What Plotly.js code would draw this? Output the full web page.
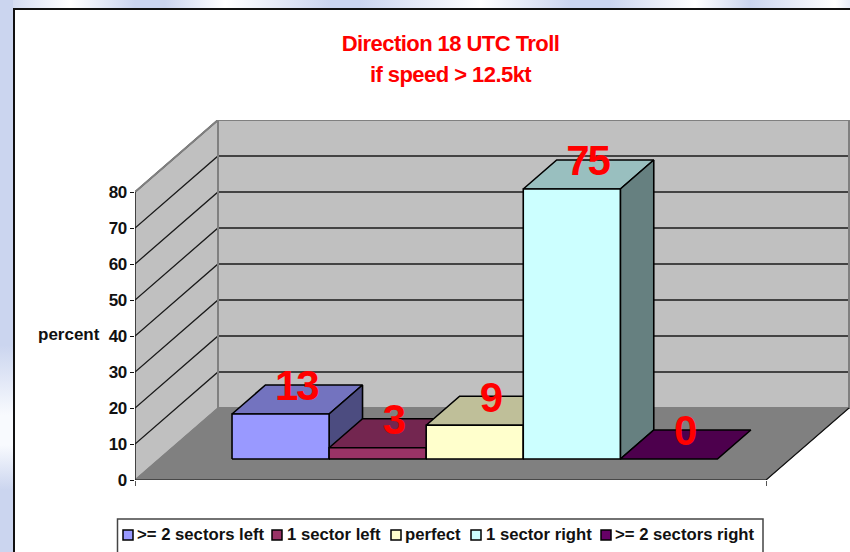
<!DOCTYPE html>
<html><head><meta charset="utf-8">
<script src="https://cdn.plot.ly/plotly-3.0.1.min.js"></script>
<style>
html,body{margin:0;padding:0;width:850px;height:552px;overflow:hidden;background:#cbd5ef}
#bgTop{position:absolute;left:0;top:0;width:850px;height:12px;background:linear-gradient(90deg,#cbd5ef 0,#ffffff 70px,#cbd5ef 135px,#cbd5ef 165px,#ffffff 225px,#cbd5ef 330px,#cbd5ef 360px,#ffffff 480px,#cbd5ef 570px,#cbd5ef 610px,#ffffff 695px,#cbd5ef 750px,#ffffff 835px,#e8edf8 850px)}
#bgLeft{position:absolute;left:0;top:0;width:13px;height:552px;background:linear-gradient(180deg,#cbd5ef 0,#cbd5ef 345px,#f8fafe 415px,#f8fafe 445px,#cbd5ef 490px,#cbd5ef 552px)}
#frame{position:absolute;left:13px;top:8px;width:837px;height:544px;background:#fff;border-left:2px solid #111;border-top:2px solid #111;box-sizing:border-box}
#chart{position:absolute;left:0;top:0;width:850px;height:552px}
.ytick text{letter-spacing:-.5px}
.gtitle{letter-spacing:-.55px}
.textpoint text{letter-spacing:-2px}
</style></head><body>
<div id="bgTop"></div><div id="bgLeft"></div><div id="frame"></div><div id="chart"></div>
<script>
const categories=['>= 2 sectors left','1 sector left','perfect','1 sector right','>= 2 sectors right'];
const values=[12.5,3.125,9.375,75,0];
const valueLabels=['13','3','9','75','0'];
const frontColors=['#9999FF','#993366','#FFFFCC','#CCFFFF','#660066'];
const topColors=['#7373BF','#732650','#BFBF99','#99BFBF','#4D004D'];
const sideColors=['#4C4C80','#4D1A33','#808066','#668080','#330033'];
const yTicks=[0,10,20,30,40,50,60,70,80];

const nBars=categories.length, gap=0.75;
const xStart=-gap, xEnd=nBars+gap, yMax=80;
const depthX=83/97.08, depthY=20;           // oblique projection of the depth axis, in axis units
const z0=21/72, z1=50/72;                   // bar front/back inside the depth
const px=(x,z)=>x+z*depthX, py=(y,z)=>y+z*depthY;
const poly=(pts,fill,line,lw)=>({type:'scatter',mode:'lines',x:pts.map(p=>px(p[0],p[2])).concat(px(pts[0][0],pts[0][2])),
  y:pts.map(p=>py(p[1],p[2])).concat(py(pts[0][1],pts[0][2])),fill:'toself',fillcolor:fill,
  line:{color:line,width:lw},hoverinfo:'skip',showlegend:false});

const traces=[];
traces.push(poly([[xStart,0,1],[xEnd,0,1],[xEnd,yMax,1],[xStart,yMax,1]],'#C0C0C0','#808080',2));
traces.push(poly([[xStart,0,0],[xStart,0,1],[xStart,yMax,1],[xStart,yMax,0]],'#C0C0C0','#808080',1.5));
traces.push(poly([[xStart,0,0],[xEnd,0,0],[xEnd,0,1],[xStart,0,1]],'#808080','#808080',1));
const gx=[],gy=[];
yTicks.filter(t=>t>0).forEach(t=>{
  gx.push(px(xStart,0),px(xStart,1),px(xEnd,1),null); gy.push(py(t,0),py(t,1),py(t,1),null);
});
traces.push({type:'scatter',mode:'lines',x:gx,y:gy,line:{color:'#1a1a1a',width:1.3},hoverinfo:'skip',showlegend:false});
traces.push({type:'scatter',mode:'lines',x:[px(xStart,1),px(xStart,1)],y:[py(0,1),py(yMax,1)],line:{color:'#808080',width:2},hoverinfo:'skip',showlegend:false});
traces.push({type:'scatter',mode:'lines',x:[px(xStart,0),px(xStart,1),px(xEnd,1),px(xEnd,1)],y:[py(yMax,0),py(yMax,1),py(yMax,1),py(0,1)],line:{color:'#808080',width:2},hoverinfo:'skip',showlegend:false});
traces.push({type:'scatter',mode:'lines',x:[xStart,xStart,xEnd,px(xEnd,1)],y:[yMax,0,0,py(0,1)],line:{color:'#111',width:1.2},hoverinfo:'skip',showlegend:false});
values.forEach((v,i)=>{
  const a=i,b=i+1;
  traces.push(poly([[a,v,z0],[b,v,z0],[b,v,z1],[a,v,z1]],topColors[i],'#000',1.6));
  if(v>0) traces.push(poly([[b,0,z0],[b,0,z1],[b,v,z1],[b,v,z0]],sideColors[i],'#000',1.6));
  if(v>0) traces.push(poly([[a,0,z0],[b,0,z0],[b,v,z0],[a,v,z0]],frontColors[i],'#000',1.6));
});
const labelLift=2.65, zm=(z0+z1)/2;
traces.push({type:'scatter',mode:'text',x:values.map((v,i)=>px(i+0.5,zm)-0.01),y:values.map(v=>py(v,zm)+labelLift),
  text:valueLabels,textposition:'middle center',textfont:{family:'Liberation Sans',size:42,color:'#FF0000',weight:700},hoverinfo:'skip',showlegend:false,cliponaxis:false});

const W=850,H=552;
const legendSwatchPx=[123,272,391,471,601];
const legendTextPx=[135,285,403,484,613];
const shapes=[];
const mL=135,mR=0,mT=120,mB=72,pw=W-mL-mR,ph=H-mT-mB;
const paperX=p=>(p-mL)/pw, paperY=p=>(H-mB-p)/ph;
shapes.push({type:'rect',xref:'paper',yref:'paper',x0:paperX(117.5),x1:paperX(763),y0:paperY(560),y1:paperY(519),line:{color:'#444',width:1.5},fillcolor:'#fff',layer:'above'});
const annotations=[];
categories.forEach((c,i)=>{
  shapes.push({type:'rect',xref:'paper',yref:'paper',x0:paperX(legendSwatchPx[i]),x1:paperX(legendSwatchPx[i]+10),y0:paperY(540),y1:paperY(530),line:{color:'#000',width:1.5},fillcolor:frontColors[i],layer:'above'});
  annotations.push({xref:'paper',yref:'paper',x:paperX(legendTextPx[i]),y:paperY(534.5),xanchor:'left',yanchor:'middle',showarrow:false,text:c,
    font:{family:'Liberation Sans',size:16.7,color:'#111',weight:700}});
});
annotations.push({xref:'paper',yref:'paper',x:paperX(68.5),y:paperY(334),xanchor:'center',yanchor:'middle',showarrow:false,text:'percent',font:{family:'Liberation Sans',size:17,color:'#111',weight:700}});

const layout={width:W,height:H,margin:{l:mL,r:mR,t:mT,b:mB,pad:0},paper_bgcolor:'rgba(0,0,0,0)',plot_bgcolor:'rgba(0,0,0,0)',showlegend:false,
  title:{text:'Direction 18 UTC Troll<br>if speed > 12.5kt',font:{family:'Liberation Sans',size:22,color:'#FF0000',weight:700},xref:'paper',yref:'container',x:(450.5-mL)/pw,xanchor:'center',y:1-51/H,yanchor:'top'},
  xaxis:{range:[xStart,xStart+pw/97.08],showgrid:false,zeroline:false,showline:false,tickmode:'array',tickvals:[xStart,xEnd],ticktext:['',''],ticks:'outside',ticklen:5,tickcolor:'#555',tickwidth:1,fixedrange:true},
  yaxis:{range:[0,100],showgrid:false,zeroline:false,showline:false,tickmode:'array',tickvals:yTicks,ticktext:yTicks.map(String),ticks:'outside',ticklen:4,tickcolor:'#111',tickwidth:1,
    tickfont:{family:'Liberation Sans',size:17,color:'#111',weight:700},fixedrange:true},
  shapes,annotations};
Plotly.newPlot('chart',traces,layout,{displayModeBar:false,responsive:false}).then(()=>{
  const lines=document.querySelectorAll('.gtitle .line');
  if(lines[1]) lines[1].setAttribute('dy','1.41em');
});
</script></body></html>
